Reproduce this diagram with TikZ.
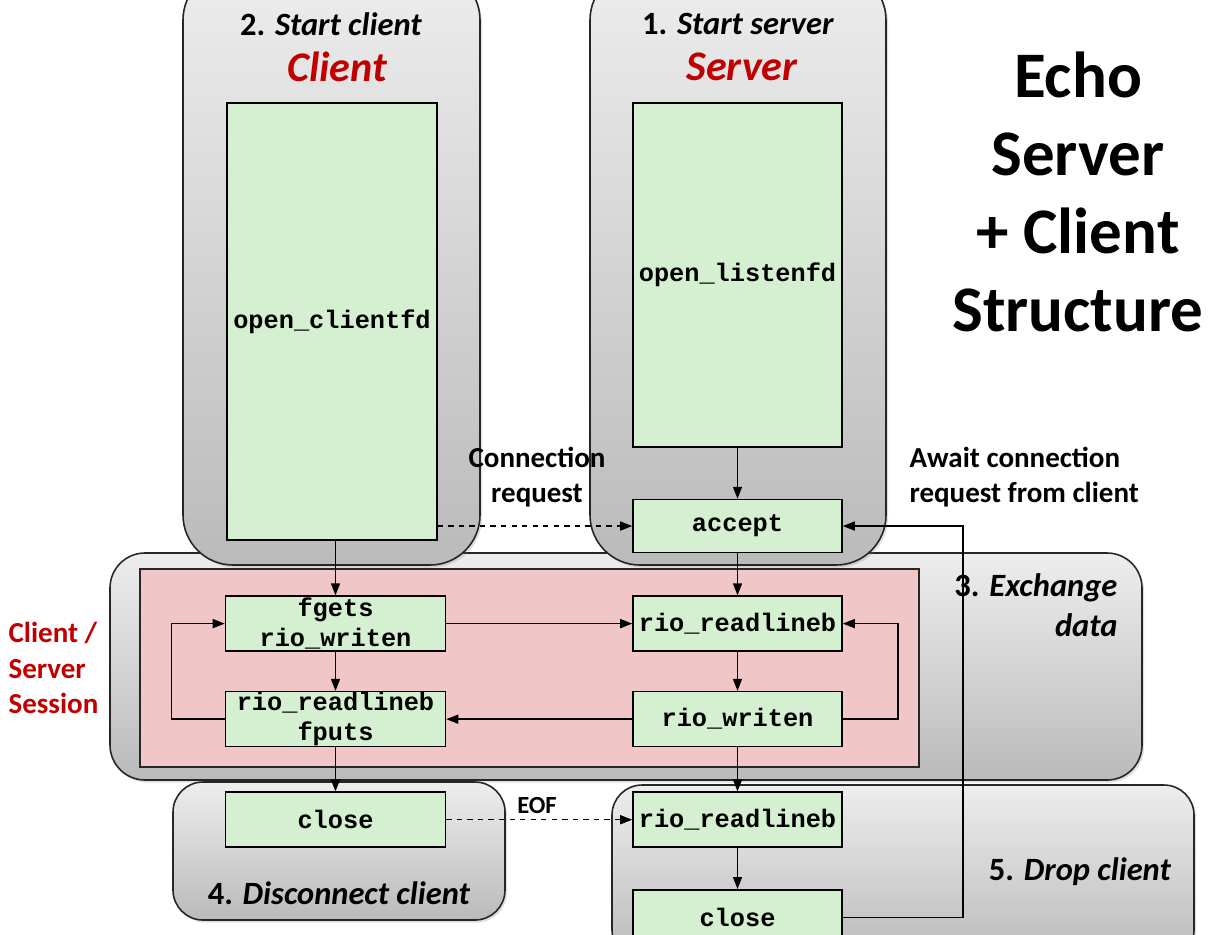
\documentclass[tikz,border=0pt]{standalone}
\usepackage{fontspec}
\setmainfont{Carlito}
\setmonofont{Liberation Mono}
\usepackage{tikz}
\usetikzlibrary{positioning,arrows.meta,shadows}

\definecolor{fngreen}{HTML}{D5F0D0}
\definecolor{sessionpink}{HTML}{F1C6C7}
\definecolor{titlered}{HTML}{C00000}

\tikzset{
  panel/.style={draw=black!85, line width=0.9pt, top color=black!7, bottom color=black!27,
    drop shadow={opacity=0.25, shadow xshift=0.04cm, shadow yshift=-0.05cm}},
  fn/.style={draw, fill=fngreen, line width=0.9pt, inner sep=0pt,
    minimum width=4.18cm, minimum height=1.1cm, align=center,
    font=\fontsize{14.4}{17}\selectfont\ttfamily\bfseries},
  stagetitle/.style={font=\fontsize{18.5}{22.5}\selectfont\bfseries},
  sidetitle/.style={font=\fontsize{24}{28}\selectfont\bfseries\itshape, text=titlered},
  remark/.style={font=\fontsize{16.5}{20}\selectfont\bfseries}
}

\begin{document}
\begin{tikzpicture}[x=0.02cm, y=-0.02cm, line width=0.85pt,
    >={Triangle[length=2.4mm,width=1.8mm]}]
  \useasboundingbox (0,0) rectangle (1212,934);

  % panels
  \draw[panel, rounded corners=0.7cm] (110,553) rectangle (1142,780);
  \draw[draw=black!85, line width=0.9pt, fill=sessionpink] (140,569) rectangle (919,767);
  \draw[panel, rounded corners=1cm] (183,-30) rectangle (480,565);
  \draw[panel, rounded corners=1cm] (590,-30) rectangle (886,565);
  \draw[panel, rounded corners=0.6cm] (173,782) rectangle (505,920);
  \draw[panel, rounded corners=0.6cm] (612,785) rectangle (1194,960);

  % titles
  \node[stagetitle] (clienthead) at (331,24) {2. \textit{Start client}};
  \node[sidetitle] (clienttitle) at (337,67) {Client};
  \node[stagetitle] (serverhead) at (738,24) {1. \textit{Start server}};
  \node[sidetitle] (servertitle) at (742,67) {Server};
  \node[font=\fontsize{37}{44.5}\selectfont\bfseries, align=center] (title) at (1078,192) {Echo\\Server\\+ Client\\Structure};
  \node[stagetitle, align=right, anchor=east] (exchangehead) at (1124,605) {3. \textit{Exchange}\\\textit{data}};
  \node[stagetitle] (disconnecthead) at (339,893) {4. \textit{Disconnect client}};
  \node[stagetitle] (drophead) at (1080,872) {5. \textit{Drop client}};
  \node[remark, text=titlered, align=left, anchor=west] (session) at (2,668) {Client /\\Server\\Session};
  \node[remark, align=center] (connreq) at (537,477) {Connection\\request};
  \node[remark, align=left, anchor=west] (await) at (903,477) {Await connection\\request from client};
  \node[font=\fontsize{14}{16}\selectfont\bfseries] (eof) at (537,805) {EOF};

  % server side
  \node[fn, minimum height=6.88cm] (listenfd) at (737.5,275) {open\_listenfd};
  \node[fn, minimum height=1.06cm] (accept) [below=1.02cm of listenfd] {accept};
  \node[fn] (srvread) [below=0.84cm of accept] {rio\_readlineb};
  \node[fn] (srvwrite) [below=0.78cm of srvread] {rio\_writen};
  \node[fn] (dropread) [below=0.88cm of srvwrite] {rio\_readlineb};
  \node[fn] (dropclose) [below=0.82cm of dropread] {close};

  % client side
  \node[fn, minimum width=4.2cm, minimum height=8.74cm] (clientfd) at (332,321.5) {open\_clientfd};
  \node[fn, minimum width=4.4cm] (fgets) [left=3.72cm of srvread] {fgets\\rio\_writen};
  \node[fn, minimum width=4.4cm] (cliread) [left=3.72cm of srvwrite] {rio\_readlineb\\fputs};
  \node[fn, minimum width=4.4cm] (cliclose) [left=3.72cm of dropread] {close};

  \draw [->] (clientfd.south -| fgets) -- (fgets);
  \draw [->] (fgets) -- (cliread);
  \draw [->] (cliread) -- (cliclose);
  \draw [->] (cliread.west) -- ++(-1.06cm,0) |- (fgets.west);

  \draw [->] (listenfd) -- (accept);
  \draw [->] (accept) -- (srvread);
  \draw [->] (srvread) -- (srvwrite);
  \draw [->] (srvwrite) -- (dropread);
  \draw [->] (dropread) -- (dropclose);
  \draw [->] (srvwrite.east) -- ++(1.1cm,0) |- (srvread.east);
  \draw [->] (dropclose.east) -- ++(2.4cm,0) |- (accept.east);

  \draw [->] (fgets) -- (srvread);
  \draw [->] (srvwrite) -- (cliread);

  \draw [->, dashed] (clientfd.east |- accept) -- (accept.west);
  \draw [->, dashed] (cliclose) -- (dropread);

\end{tikzpicture}
\end{document}
